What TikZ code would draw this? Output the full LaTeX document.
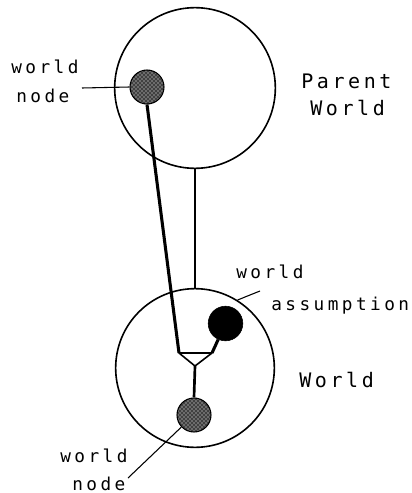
\documentclass[tikz,border=0pt]{standalone}
\usepackage{fontspec}
\newfontfamily\smallmono[LetterSpace=19.5]{DejaVu Sans Mono}
\newfontfamily\bigmono[LetterSpace=18]{DejaVu Sans Mono}
\usetikzlibrary{patterns}
\begin{document}
\begin{tikzpicture}[x=0.75pt,y=-0.75pt,
  worldcirc/.style={circle,draw,line width=1.2pt,inner sep=0pt},
  hatched/.style={circle,draw,line width=0.8pt,inner sep=0pt,minimum size=25.5pt,
     preaction={fill=black!75},pattern=crosshatch dots,pattern color=white},
  blacknode/.style={circle,draw,fill=black,inner sep=0pt,minimum size=26pt},
  thin/.style={line width=0.8pt},
  thick3/.style={line width=2.3pt,line join=round},
  smalltxt/.style={anchor=base west,inner sep=0pt,font=\smallmono\fontsize{13.3pt}{15pt}\selectfont},
  bigtxt/.style={anchor=base west,inner sep=0pt,font=\bigmono\fontsize{15pt}{17pt}\selectfont}]
\useasboundingbox (0,0) rectangle (411,493);
% circles
\node[worldcirc,minimum size=120.5pt] (parent) at (195,88) {};
\node[worldcirc,minimum size=119pt] (world) at (195,368) {};
% nodes
\node[hatched] (wn1) at (147,87) {};
\node[hatched] (wn2) at (194,415) {};
\node[blacknode] (wa) at (225.5,323.5) {};
% triangle corners
\coordinate (tl) at (179,353);
\coordinate (tr) at (212,353);
\coordinate (tb) at (195,366);
% connectors
\draw[thin] (parent.south) -- (world.north);
\draw[thick3] (wn1.south) -- (tl);
\draw[thick3] (tr) -- (wa);
\draw[line width=1.2pt,line join=round] (tl) -- (tr) -- (tb) -- cycle;
\draw[line width=2pt] (tb) -- (wn2.north);
% labels
\coordinate (l1) at (82,88);
\draw[thin] (l1) -- (wn1.west);
\node[smalltxt] (t1a) at (11,73) {world};
\node[smalltxt] (t1b) at (16,102) {node};
\node[bigtxt] (t2a) at (301,88) {Parent};
\node[bigtxt] (t2b) at (310,115) {World};
\coordinate (l3) at (260,291);
\draw[thin] (l3) -- (world.58);
\node[smalltxt] (t3a) at (236,278) {world};
\node[smalltxt] (t3b) at (271,310) {assumption};
\node[bigtxt] (t4) at (299,387) {World};
\coordinate (l5) at (128,478);
\draw[thin] (wn2) -- (l5);
\node[smalltxt] (t5a) at (60,462) {world};
\node[smalltxt] (t5b) at (72,490) {node};
\end{tikzpicture}
\end{document}
